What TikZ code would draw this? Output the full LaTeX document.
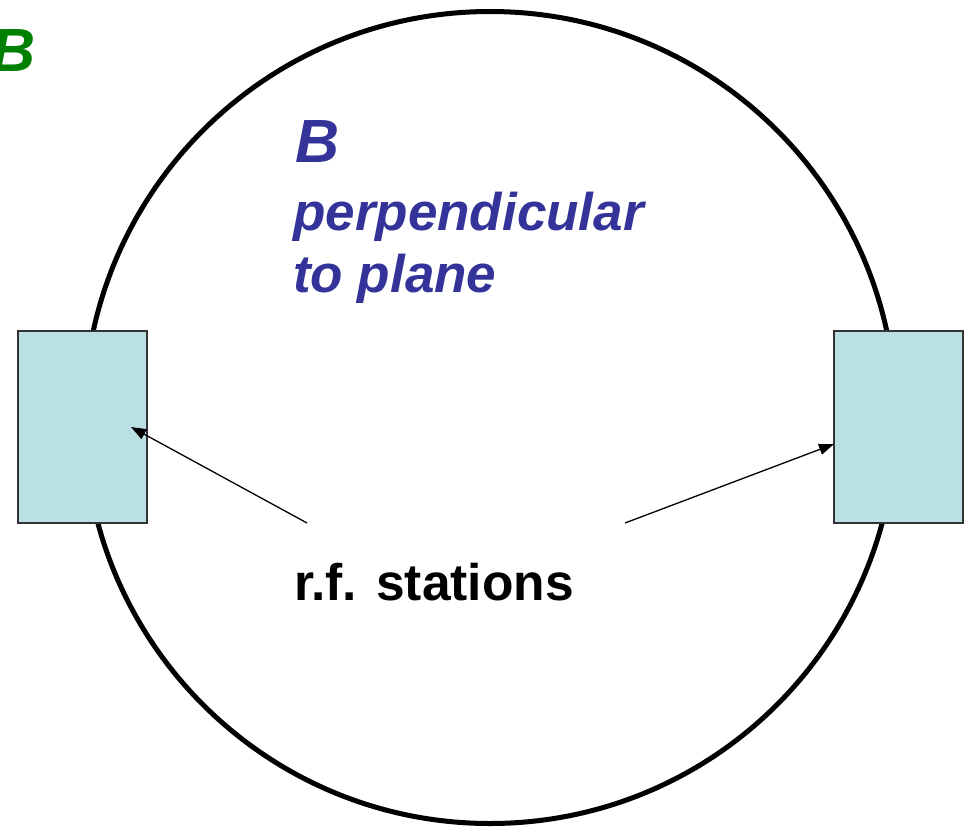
\documentclass[tikz,border=0pt]{standalone}
\usepackage{fontspec}
\setmainfont{Liberation Sans}
\usetikzlibrary{arrows.meta}
\definecolor{rfblue}{RGB}{51,51,153}
\definecolor{rfgreen}{RGB}{0,128,0}
\definecolor{rffill}{RGB}{187,224,227}
\tikzset{
  ring/.style={circle, draw=black, line width=5pt, inner sep=0pt, minimum size=812pt},
  station/.style={rectangle, draw=black!80, line width=1.5pt, fill=rffill, inner sep=0pt, minimum width=129pt, minimum height=192pt},
  pointer/.style={draw=black, line width=1.3pt, -{Triangle[length=15pt,width=11pt]}},
  bigB/.style={anchor=base west, inner sep=0pt, font=\fontsize{61}{61}\selectfont\bfseries\itshape},
  bluetext/.style={anchor=base west, inner sep=0pt, text=rfblue, font=\fontsize{53}{53}\selectfont\bfseries\itshape},
  label/.style={anchor=base west, inner sep=0pt, text=black, font=\fontsize{51.5}{51.5}\selectfont\bfseries}
}
\begin{document}
\begin{tikzpicture}[x=1pt,y=-1pt]
\useasboundingbox (0,0) rectangle (965,829);
\clip (0,0) rectangle (965,829);
\node[ring] (ring) at (490,417.5) {};
\node[station] (L) at (82.5,427) {};
\node[station] (R) at (898.5,427) {};
\node[bigB, text=rfgreen] (gB) at (-9,72) {B};
\node[bigB, text=rfblue] (bB) at (295,163) {B};
\node[bluetext] (perp) at (293,230) {perpendicular};
\node[bluetext] (plane) at (293,292) {to plane};
\node[label] (rf) at (294,600) {r.f. stations};
\coordinate (sL) at (307,523);
\coordinate (tL) at (131,427);
\coordinate (sR) at (625,523);
\coordinate (tR) at (834,444);
\draw[pointer] (sL) -- (tL);
\draw[pointer] (sR) -- (tR);
\end{tikzpicture}
\end{document}
